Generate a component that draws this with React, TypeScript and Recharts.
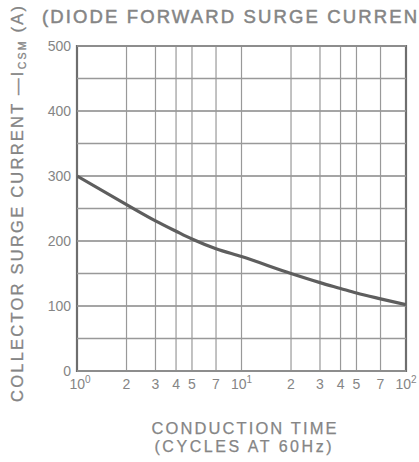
import React from "react";
import { LineChart, Line, XAxis, YAxis, CartesianGrid, ReferenceArea, ReferenceLine } from "recharts";

const cycles = [1, 2, 3, 4, 5, 7, 10, 20, 30, 40, 50, 70, 100];
const surgeCurrent = [300, 256, 231, 215, 203, 188, 176, 150, 136, 127, 120, 111, 102];
const xTicks = [1, 2, 3, 4, 5, 7, 10, 20, 30, 40, 50, 70, 100];
const xTickLabels = ["10|0", "2", "3", "4", "5", "7", "10|1", "2", "3", "4", "5", "7", "10|2"];
const yTicks = [0, 50, 100, 150, 200, 250, 300, 350, 400, 450, 500];

const data = cycles.map((c, i) => ({ c, i: surgeCurrent[i] }));

const TXT = "#858585";
const GRID = "#999999";
const FONT = "'Liberation Sans', Arial, sans-serif";

const XTick = (props: any) => {
  const { x, y, payload } = props;
  const idx = xTicks.indexOf(payload.value);
  const lab = xTickLabels[idx] ?? "";
  const [base, sup] = lab.split("|");
  return (
    <text x={x + (idx === 0 ? 3 : 0)} y={y + 16} textAnchor="middle" fill={TXT} fontSize={14} fontFamily={FONT}>
      {base}
      {sup !== undefined && (
        <tspan dy={-6} fontSize={10}>{sup}</tspan>
      )}
    </text>
  );
};

const YTick = (props: any) => {
  const { x, y, payload } = props;
  if (payload.value % 100 !== 0) return <g />;
  return (
    <text x={x} y={y + 5} textAnchor="end" fill={TXT} fontSize={14} fontFamily={FONT}>
      {payload.value}
    </text>
  );
};

export default function App() {
  return (
    <div style={{ position: "absolute", left: 0, top: 0, width: 419, height: 462, background: "#fff" }}>
      <LineChart
        width={419}
        height={462}
        data={data}
        margin={{ top: 46, right: 13, bottom: 61, left: 17 }}
      >
        <CartesianGrid stroke={GRID} strokeWidth={1.2} horizontalValues={yTicks} />
        <XAxis
          dataKey="c"
          type="number"
          scale="log"
          domain={[1, 100]}
          ticks={xTicks}
          interval={0}
          tick={<XTick />}
          tickLine={false}
          axisLine={false}
          tickSize={0}
          height={30}
          allowDataOverflow
        />
        <YAxis
          type="number"
          domain={[0, 500]}
          ticks={yTicks}
          interval={0}
          width={60}
          tickLine={false}
          axisLine={false}
          tickSize={0}
          tickMargin={6}
          tick={<YTick />}
        />
        {yTicks.map((v) => (
          <ReferenceLine key={v} y={v} stroke={GRID} strokeWidth={1.3} ifOverflow="visible" />
        ))}
        <ReferenceArea x1={1} x2={100} y1={0} y2={500} fill="none" stroke="#6e6e6e" strokeWidth={2.2} ifOverflow="visible" />
        <Line
          dataKey="i"
          type="monotone"
          stroke="#5e5e5e"
          strokeWidth={3.2}
          dot={false}
          isAnimationActive={false}
        />
      </LineChart>
      <svg width={419} height={462} style={{ position: "absolute", left: 0, top: 0, pointerEvents: "none" }}>
        <text x={42} y={23} fill={TXT} stroke={TXT} strokeWidth={0.5} fontSize={18.5} fontFamily={FONT} textLength={375} lengthAdjust="spacing">
          (DIODE FORWARD SURGE CURREN
        </text>
        <text
          transform="translate(23,204) rotate(-90)"
          textAnchor="middle"
          fill={TXT}
          stroke={TXT}
          strokeWidth={0.3}
          fontSize={16.5}
          fontFamily={FONT}
          textLength={396}
          lengthAdjust="spacing"
        >
          COLLECTOR SURGE CURRENT —I
          <tspan dy={3} fontSize={10.5}>CSM</tspan>
          <tspan dy={-3}>{"  (A)"}</tspan>
        </text>
        <text x={244} y={434} textAnchor="middle" fill={TXT} stroke={TXT} strokeWidth={0.25} fontSize={16.5} fontFamily={FONT} textLength={185} lengthAdjust="spacing">
          CONDUCTION TIME
        </text>
        <text x={243} y={452} textAnchor="middle" fill={TXT} stroke={TXT} strokeWidth={0.25} fontSize={16} fontFamily={FONT} textLength={177} lengthAdjust="spacing">
          (CYCLES AT 60Hz)
        </text>
      </svg>
    </div>
  );
}
